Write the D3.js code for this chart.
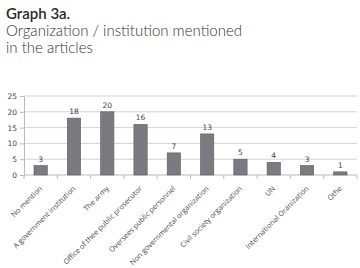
<!DOCTYPE html>
<html>
<head>
<meta charset="utf-8">
<script src="https://cdn.jsdelivr.net/npm/d3@7"></script>
<style>
  body { margin: 0; background: #fff; }
  svg { display: block; }
</style>
</head>
<body>
<div id="chart"></div>
<script>
// Data
const categories = ["No mention", "A government institution", "The army", "Office of thee public prosecutor",
  "Oversees public personnel", "Non governmental organization", "Civil society organization", "UN",
  "International Oranization", "Othe"];
const counts = [3, 18, 20, 16, 7, 13, 5, 4, 3, 1];
const yTicks = [0, 5, 10, 15, 20, 25];
const titleLines = ["Graph 3a.", "Organization / institution mentioned", "in the articles"];

const W = 360, H = 268;
const margin = { top: 96, right: 3, bottom: 93, left: 24 };
const width = W - margin.left - margin.right;
const height = H - margin.top - margin.bottom;

const svg = d3.select("#chart").append("svg")
    .attr("width", W)
    .attr("height", H);

// Title
svg.append("text")
    .attr("x", 6).attr("y", 19)
    .attr("font-family", "Lato, 'Open Sans', sans-serif")
    .attr("font-size", 15)
    .attr("font-weight", 600)
    .attr("fill", "#2a2a2a")
    .text(titleLines[0]);

titleLines.slice(1).forEach((t, i) => {
    svg.append("text")
        .attr("x", 6).attr("y", 36 + i * 17)
        .attr("font-family", "Lato, 'Open Sans', sans-serif")
        .attr("font-size", 15)
        .attr("font-weight", 300)
        .attr("fill", "#333")
        .text(t);
});

const g = svg.append("g").attr("transform", `translate(${margin.left},${margin.top})`);

const x = d3.scaleBand().domain(categories).range([0, width]).paddingInner(0.6).paddingOuter(0.3);
const y = d3.scaleLinear().domain([0, 25]).range([height, 0]);

// Gridlines
g.selectAll(".grid")
    .data(yTicks.slice(1))
    .enter().append("line")
    .attr("x1", 0).attr("x2", width)
    .attr("y1", d => y(d)).attr("y2", d => y(d))
    .attr("stroke", "#c8c8c8")
    .attr("stroke-width", 0.8);

// Y axis
const yAxis = g.append("g")
    .call(d3.axisLeft(y).tickValues(yTicks).tickSize(4).tickSizeOuter(0));
yAxis.select(".domain").attr("stroke", "#bbb");
yAxis.selectAll(".tick line").attr("stroke", "#bbb");
yAxis.selectAll("text")
    .attr("font-family", "'DejaVu Sans', sans-serif")
    .attr("font-size", 7.5)
    .attr("fill", "#444")
    .attr("x", -7);

// X axis with category boundary ticks
const xAxis = g.append("g").attr("transform", `translate(0,${height})`);
xAxis.append("line")
    .attr("x1", 0).attr("x2", width)
    .attr("stroke", "#bbb");
xAxis.selectAll(".sep")
    .data(d3.range(categories.length + 1))
    .enter().append("line")
    .attr("x1", i => i * width / categories.length)
    .attr("x2", i => i * width / categories.length)
    .attr("y1", 0).attr("y2", 4)
    .attr("stroke", "#bbb");

// Bars
g.selectAll(".bar")
    .data(counts)
    .enter().append("rect")
    .attr("x", (d, i) => x(categories[i]))
    .attr("y", d => y(d))
    .attr("width", x.bandwidth())
    .attr("height", d => height - y(d))
    .attr("fill", "#7b7a80")
    .attr("stroke", "#5c5b60")
    .attr("stroke-width", 0.6);

// Value labels
g.selectAll(".val")
    .data(counts)
    .enter().append("text")
    .attr("x", (d, i) => x(categories[i]) + x.bandwidth() / 2)
    .attr("y", d => y(d) - 4)
    .attr("text-anchor", "middle")
    .attr("font-family", "'DejaVu Sans', sans-serif")
    .attr("font-size", 7.5)
    .attr("fill", "#444")
    .text(d => d);

// Category labels
g.selectAll(".cat")
    .data(categories)
    .enter().append("text")
    .attr("transform", d => `translate(${x(d) + x.bandwidth() / 2 + 2},${height + 14}) rotate(-45)`)
    .attr("text-anchor", "end")
    .attr("font-family", "'Open Sans', sans-serif")
    .attr("font-size", 7.3)
    .attr("fill", "#444")
    .text(d => d);
</script>
</body>
</html>
